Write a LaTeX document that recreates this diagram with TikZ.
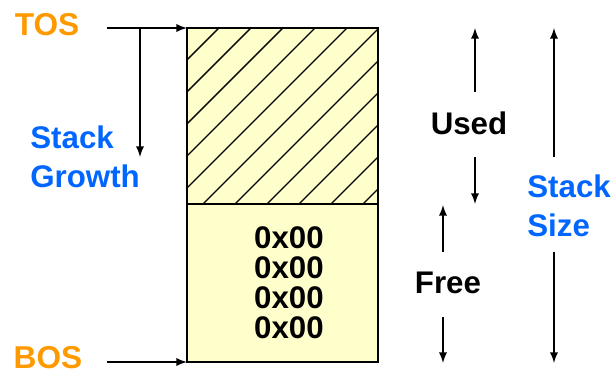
\documentclass[tikz,border=0pt]{standalone}
\usepackage{fontspec}
\setmainfont{Liberation Sans}
\usepackage{xcolor}
\usepackage{tikz}

\definecolor{tosorange}{HTML}{FF9900}
\definecolor{labelblue}{HTML}{0066FF}
\definecolor{stackfill}{HTML}{FFFFCC}

\tikzset{
    lbl/.style={font=\fontsize{17.8}{21}\selectfont\bfseries, inner sep=0pt},
    arr/.style={-latex, line width=1.1pt},
}

\begin{document}
\begin{tikzpicture}[x=0.02cm, y=-0.02cm]

    \useasboundingbox (0,0) rectangle (613,374);

    % Cantos da pilha
    \coordinate (top) at (187,28);
    \coordinate (mid) at (378,204);
    \coordinate (bot) at (187,362);
    \coordinate (far) at (378,362);

    % Parte usada (hachurada)
    \fill[stackfill] (top) rectangle (mid);
    \begin{scope}
        \clip (top) rectangle (mid);
        \foreach \c in {215,247,...,600} {
            \draw[line width=0.8pt] (\c-204,204) -- (\c-28,28);
        }
    \end{scope}

    % Parte livre
    \fill[stackfill] (bot) rectangle (mid);
    \draw[line width=1.2pt] (top) rectangle (far);
    \draw[line width=1.2pt] (187,204) -- (mid);

    % Valores da parte livre
    \node[lbl, align=center, font=\fontsize{17.8}{17}\selectfont\bfseries] (zeros) at (289,283)
        {0x00\\0x00\\0x00\\0x00};

    % Rótulos TOS e BOS
    \node[lbl, text=tosorange, font=\fontsize{18}{20}\selectfont\bfseries] (tos) at (47,25) {TOS};
    \node[lbl, text=tosorange, font=\fontsize{18}{20}\selectfont\bfseries] (bos) at (48,358) {BOS};
    \coordinate (tosin) at (107,28);
    \coordinate (bosin) at (107,362);
    \draw[arr] (tosin) -- (top);
    \draw[arr] (bosin) -- (bot);

    % Crescimento da pilha
    \coordinate (grow0) at (140,28);
    \coordinate (grow1) at (140,157);
    \draw[arr] (grow0) -- (grow1);
    \node[lbl, text=labelblue, align=left, anchor=west] (growth) at (30,157)
        {Stack\\[1pt]Growth};

    % Usado
    \node[lbl] (used) at (469,123) {Used};
    \coordinate (used0) at (475,92);
    \coordinate (used1) at (475,28);
    \coordinate (used2) at (475,157);
    \coordinate (used3) at (475,204);
    \draw[arr] (used0) -- (used1);
    \draw[arr] (used2) -- (used3);

    % Livre
    \node[lbl] (free) at (448,283) {Free};
    \coordinate (free0) at (443,252);
    \coordinate (free1) at (443,205);
    \coordinate (free2) at (443,317);
    \coordinate (free3) at (443,363);
    \draw[arr] (free0) -- (free1);
    \draw[arr] (free2) -- (free3);

    % Tamanho da pilha
    \node[lbl, text=labelblue, align=left, anchor=west] (size) at (527,206)
        {Stack\\[1pt]Size};
    \coordinate (size0) at (554,157);
    \coordinate (size1) at (554,28);
    \coordinate (size2) at (554,252);
    \coordinate (size3) at (554,363);
    \draw[arr] (size0) -- (size1);
    \draw[arr] (size2) -- (size3);

\end{tikzpicture}
\end{document}
